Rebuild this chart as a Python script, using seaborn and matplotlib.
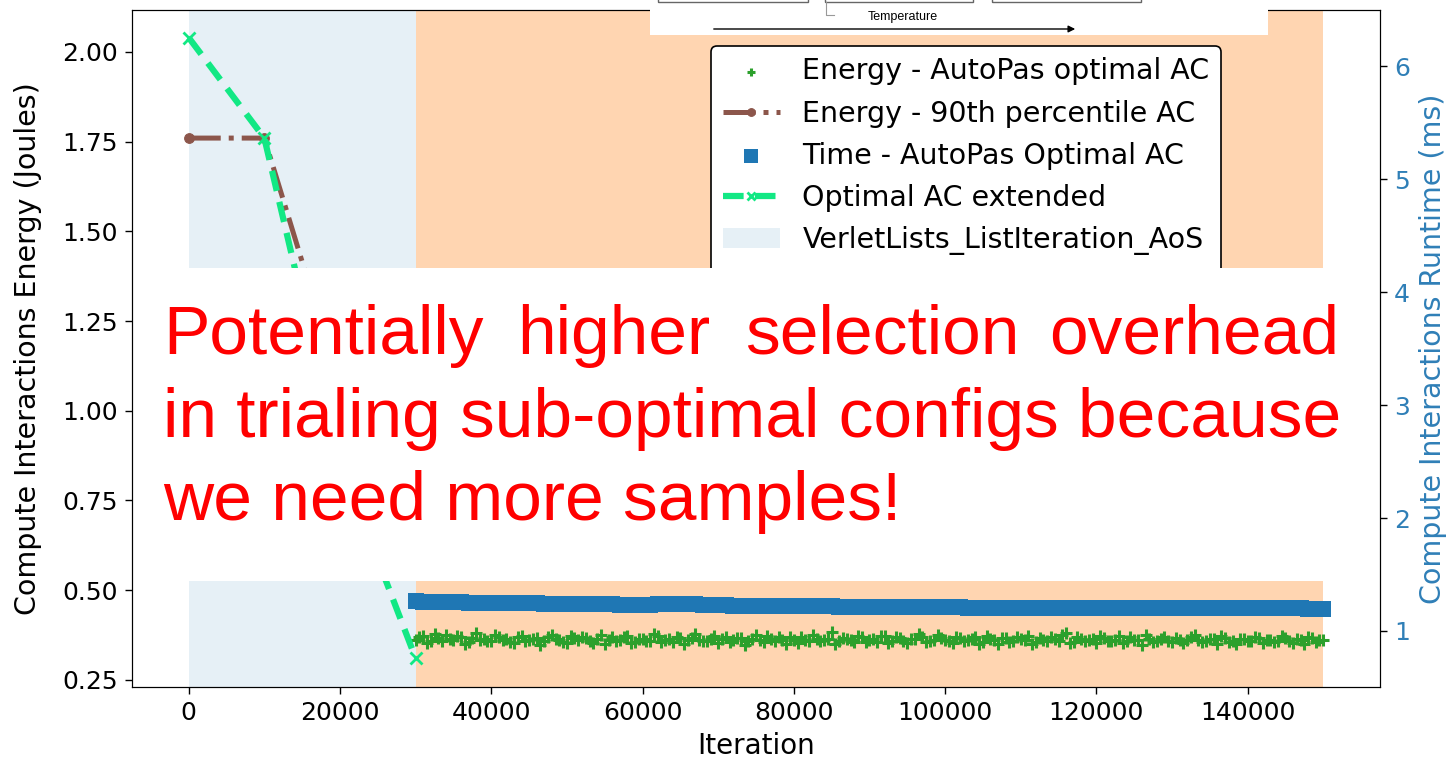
import numpy as np
import matplotlib
matplotlib.use("Agg")
import matplotlib.pyplot as plt
import seaborn as sns
from matplotlib.patches import Rectangle, FancyArrowPatch
from matplotlib.lines import Line2D

# ---- data ----
ext_iter = [0, 10000, 20000, 30000]
ext_energy = [2.04, 1.76, 0.86, 0.31]

p90_iter = [0, 10000, 20000]
p90_energy = [1.76, 1.76, 1.07]

opt_iter = list(range(30000, 150001, 1000))
opt_energy = [
    0.362, 0.371, 0.358, 0.366, 0.374, 0.360, 0.368, 0.355, 0.381, 0.363,
    0.357, 0.369, 0.364, 0.352, 0.372, 0.361, 0.367, 0.359, 0.376, 0.362,
    0.354, 0.366, 0.370, 0.358, 0.363, 0.349, 0.368, 0.361, 0.373, 0.356,
    0.365, 0.359, 0.371, 0.362, 0.355, 0.367, 0.360, 0.378, 0.357, 0.364,
    0.352, 0.369, 0.361, 0.366, 0.358, 0.374, 0.356, 0.363, 0.368, 0.351,
    0.362, 0.370, 0.357, 0.365, 0.360, 0.383, 0.358, 0.364, 0.355, 0.369,
    0.361, 0.356, 0.372, 0.359, 0.366, 0.353, 0.363, 0.368, 0.357, 0.375,
    0.360, 0.354, 0.366, 0.361, 0.370, 0.356, 0.363, 0.349, 0.367, 0.359,
    0.364, 0.372, 0.355, 0.361, 0.368, 0.358, 0.380, 0.356, 0.363, 0.360,
    0.353, 0.366, 0.359, 0.371, 0.357, 0.362, 0.346, 0.365, 0.358, 0.369,
    0.355, 0.362, 0.360, 0.374, 0.356, 0.363, 0.351, 0.367, 0.359, 0.364,
    0.357, 0.370, 0.354, 0.362, 0.358, 0.366, 0.352, 0.361, 0.368, 0.356,
    0.360]
# samples half way between the ones above
opt_iter_mid = list(range(30500, 150000, 1000))
opt_energy_mid = [
    0.368, 0.353, 0.377, 0.359, 0.364, 0.372, 0.350, 0.366, 0.361, 0.357,
    0.374, 0.362, 0.355, 0.370, 0.358, 0.365, 0.347, 0.369, 0.363, 0.356,
    0.371, 0.360, 0.366, 0.352, 0.375, 0.361, 0.357, 0.368, 0.354, 0.364,
    0.359, 0.379, 0.356, 0.363, 0.370, 0.351, 0.366, 0.360, 0.358, 0.372,
    0.363, 0.355, 0.367, 0.348, 0.365, 0.360, 0.373, 0.357, 0.362, 0.369,
    0.354, 0.361, 0.376, 0.358, 0.364, 0.350, 0.367, 0.362, 0.371, 0.356,
    0.365, 0.373, 0.352, 0.368, 0.357, 0.363, 0.378, 0.355, 0.361, 0.366,
    0.358, 0.369, 0.357, 0.364, 0.351, 0.372, 0.360, 0.366, 0.355, 0.370,
    0.361, 0.350, 0.367, 0.358, 0.363, 0.374, 0.354, 0.368, 0.359, 0.365,
    0.371, 0.357, 0.362, 0.352, 0.368, 0.360, 0.375, 0.355, 0.363, 0.358,
    0.366, 0.353, 0.369, 0.361, 0.357, 0.365, 0.372, 0.356, 0.350, 0.364,
    0.359, 0.367, 0.362, 0.355, 0.373, 0.358, 0.363, 0.349, 0.366, 0.361]
opt_time = [
    1.262, 1.260, 1.258, 1.257, 1.255, 1.254, 1.253, 1.252, 1.251, 1.250,
    1.249, 1.248, 1.247, 1.246, 1.246, 1.245, 1.244, 1.243, 1.242, 1.241,
    1.240, 1.239, 1.238, 1.237, 1.236, 1.236, 1.235, 1.234, 1.233, 1.232,
    1.232, 1.233, 1.235, 1.237, 1.238, 1.238, 1.237, 1.235, 1.233, 1.230,
    1.228, 1.226, 1.225, 1.224, 1.223, 1.222, 1.222, 1.221, 1.220, 1.220,
    1.219, 1.219, 1.218, 1.218, 1.217, 1.217, 1.216, 1.216, 1.215, 1.215,
    1.214, 1.214, 1.213, 1.213, 1.212, 1.213, 1.214, 1.214, 1.213, 1.212,
    1.211, 1.210, 1.209, 1.208, 1.207, 1.206, 1.205, 1.204, 1.204, 1.203,
    1.203, 1.204, 1.205, 1.206, 1.207, 1.207, 1.208, 1.208, 1.208, 1.207,
    1.207, 1.206, 1.206, 1.205, 1.205, 1.204, 1.204, 1.203, 1.203, 1.202,
    1.202, 1.203, 1.203, 1.204, 1.204, 1.204, 1.203, 1.203, 1.202, 1.202,
    1.202, 1.201, 1.201, 1.201, 1.200, 1.200, 1.200, 1.200, 1.199, 1.199,
    1.199]

span_labels = ["VerletLists_ListIteration_AoS", "LinkedCells_C08_SoA"]
span_starts = [0, 30000]
span_ends = [30000, 150000]

x_ticks = [0, 20000, 40000, 60000, 80000, 100000, 120000, 140000]
energy_ticks = [0.25, 0.50, 0.75, 1.00, 1.25, 1.50, 1.75, 2.00]
time_ticks = [1, 2, 3, 4, 5, 6]

note_line1 = ["Potentially", "higher", "selection", "overhead"]
note_line2 = "in trialing sub-optimal configs because"
note_line3 = "we need more samples!"

# ---- figure ----
W, H = 1451, 763
fig = plt.figure(figsize=(W / 100, H / 100), dpi=100)
ax = fig.add_axes([132 / W, 1 - 687 / H, (1380 - 132) / W, (687 - 10) / H])
ax2 = ax.twinx()

span_cols = ["tab:blue", "tab:orange"]
span_alpha = [0.11, 0.32]
for s, e, c, a, lab in zip(span_starts, span_ends, span_cols, span_alpha, span_labels):
    ax.axvspan(s, e, color=c, alpha=a, lw=0, label=lab, zorder=0)

green_ext = "#12e884"
sns.scatterplot(x=opt_iter + opt_iter_mid, y=opt_energy + opt_energy_mid, ax=ax,
                marker="+", color="tab:green", s=65, linewidth=2.2,
                label="Energy - AutoPas optimal AC", zorder=3)
sns.lineplot(x=p90_iter, y=p90_energy, ax=ax, color="tab:brown", linestyle="-.",
             marker="o", lw=3.6, markersize=7, markeredgecolor="tab:brown",
             label="Energy - 90th percentile AC", zorder=4)
sns.lineplot(x=ext_iter, y=ext_energy, ax=ax, color=green_ext, linestyle=(0, (3.3, 1.8)),
             marker="x", lw=4.5, markersize=8, markeredgewidth=2, markeredgecolor=green_ext,
             label="Optimal AC extended", zorder=5)
sns.scatterplot(x=opt_iter, y=opt_time, ax=ax2, marker="s", color="tab:blue",
                s=140, linewidth=0, label="Time - AutoPas Optimal AC")

for a in (ax, ax2):
    if a.get_legend() is not None:
        a.get_legend().remove()

ax.set_xlim(-7500, 157500)
ax.set_ylim(0.23, 2.117)
ax2.set_ylim(0.504, 6.5)
ax.set_xticks(x_ticks)
ax.set_xticklabels([str(t) for t in x_ticks])
ax.set_yticks(energy_ticks)
ax.set_yticklabels([f"{t:.2f}" for t in energy_ticks])
ax2.set_yticks(time_ticks)

ax.tick_params(labelsize=18, length=5, width=1, pad=5)
ax2.tick_params(axis="y", labelsize=18, length=5, width=1, pad=5, labelcolor="#2f7fb7")

ax.set_xlabel("Iteration", fontsize=20)
ax.xaxis.set_label_coords(0.5, -0.066)
ax.set_ylabel("Compute Interactions Energy (Joules)", fontsize=20.5)
ax.yaxis.set_label_coords(-0.072, 0.5)
ax2.set_ylabel("Compute Interactions Runtime (ms)", fontsize=20.5, color="#2f7fb7")
ax2.yaxis.set_label_coords(1.031, 0.5)

# legend in the original order
h1, l1 = ax.get_legend_handles_labels()
h2, l2 = ax2.get_legend_handles_labels()
hd = dict(zip(l1 + l2, h1 + h2))
order = ["Energy - AutoPas optimal AC", "Energy - 90th percentile AC",
         "Time - AutoPas Optimal AC", "Optimal AC extended"] + span_labels
leg = ax2.legend([hd[k] for k in order], order, loc="upper right",
                 bbox_to_anchor=(1221 / W, 1 - 46 / H), bbox_transform=fig.transFigure,
                 fontsize=20.5, frameon=True, edgecolor="black", framealpha=1,
                 labelspacing=0.5, handlelength=2.0, borderaxespad=0, markerscale=0.8)
leg.get_frame().set_linewidth(1.2)

# ---- slide overlays ----
fig.add_artist(Rectangle((136 / W, 1 - 581 / H), (1372 - 136) / W, (581 - 268) / H,
                         transform=fig.transFigure, facecolor="white", edgecolor="none", zorder=10))
fig.add_artist(Rectangle((650 / W, 1 - 35 / H), 618 / W, 40 / H,
                         transform=fig.transFigure, facecolor="white", edgecolor="none", zorder=10))
for x0, x1 in [(658, 808), (825, 973), (992, 1141)]:
    fig.add_artist(Rectangle((x0 / W, 1 - 2 / H), (x1 - x0) / W, 20 / H, transform=fig.transFigure,
                             fill=False, edgecolor="#666666", lw=1, zorder=11))
fig.add_artist(Line2D([826 / W, 826 / W, 834 / W], [1 - 2 / H, 1 - 15 / H, 1 - 15 / H],
                      transform=fig.transFigure, color="#999999", lw=0.8, zorder=11))
fig.text(903 / W, 1 - 17 / H, "Temperature", fontsize=9, family="Liberation Sans",
         ha="center", va="center", zorder=11)
fig.add_artist(FancyArrowPatch((711 / W, 1 - 29 / H), (1078 / W, 1 - 29 / H),
                               transform=fig.transFigure, arrowstyle="-|>", mutation_scale=10,
                               lw=1, color="black", zorder=11))

red = dict(fontsize=50, color="#ff0000", family="Liberation Sans", va="baseline", zorder=12)
for word, xpos in zip(note_line1[:3], [163, 517, 745]):
    fig.text(xpos / W, 1 - 354 / H, word, ha="left", **red)
fig.text(1339 / W, 1 - 354 / H, note_line1[3], ha="right", **red)
fig.text(163 / W, 1 - 437 / H, note_line2, ha="left", **red)
fig.text(163 / W, 1 - 520 / H, note_line3, ha="left", **red)

fig.savefig("out.png", dpi=100)
